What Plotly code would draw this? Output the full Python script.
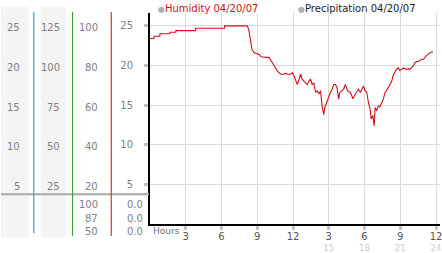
import plotly.graph_objects as go

# ---------------- data ----------------
hours = [0.00, 0.33, 0.33, 0.83, 0.83, 1.67, 1.67, 2.17, 2.17, 3.83, 3.83, 6.25, 6.25, 8.17,
         8.29, 8.42, 8.56, 8.75, 9.17, 9.31, 10.00, 10.17, 10.28, 10.50, 10.69, 10.97, 11.17,
         11.39, 11.58, 11.81, 11.94, 12.08, 12.36, 12.50, 12.64, 12.78, 12.92, 13.06, 13.19,
         13.33, 13.47, 13.61, 13.75, 13.89, 14.03, 14.17, 14.31, 14.44, 14.58, 14.67, 14.86,
         15.00, 15.14, 15.29, 15.42, 15.56, 15.69, 15.83, 15.92, 16.08, 16.25, 16.39, 16.58,
         16.81, 17.03, 17.22, 17.33, 17.50, 17.64, 17.75, 17.92, 18.06, 18.19, 18.33, 18.47,
         18.56, 18.69, 18.81, 18.89, 19.03, 19.17, 19.29, 19.44, 19.58, 19.72, 19.83, 20.00,
         20.13, 20.28, 20.42, 20.56, 20.67, 20.83, 20.96, 21.11, 21.25, 21.39, 21.50, 21.67,
         21.81, 21.92, 22.08, 22.21, 22.36, 22.50, 22.78, 22.92, 23.04, 23.19, 23.33, 23.47,
         23.58, 23.75]
humidity = [23.4, 23.4, 23.7, 23.7, 24.0, 24.0, 24.2, 24.2, 24.4, 24.4, 24.7, 24.7, 25.0, 25.0,
            24.5, 23.0, 22.0, 21.6, 21.4, 21.1, 21.0, 20.6, 20.3, 19.8, 19.3, 18.9, 18.9,
            19.0, 18.9, 18.9, 19.1, 18.7, 17.6, 18.2, 18.9, 18.25, 18.0, 17.8, 17.6,
            18.0, 18.3, 17.6, 17.8, 16.6, 16.8, 16.4, 16.8, 14.9, 13.8, 14.7, 15.5,
            16.0, 16.6, 17.0, 17.6, 17.6, 17.2, 15.75, 16.6, 16.8, 17.0, 17.6, 16.8,
            16.6, 15.8, 16.4, 16.6, 17.0, 16.6, 17.0, 17.4, 16.8, 16.6, 15.3, 14.5,
            13.25, 13.7, 12.4, 14.7, 14.3, 14.9, 14.8, 15.3, 15.75, 16.6, 16.8, 17.2,
            17.6, 18.0, 18.8, 19.3, 19.5, 19.7, 19.4, 19.5, 19.7, 19.6, 19.5, 19.6,
            19.5, 19.7, 19.9, 20.3, 20.5, 20.5, 20.75, 20.75, 21.0, 21.25, 21.4, 21.6,
            21.7, 21.7]

scale_main = [5, 10, 15, 20, 25]          # column 1 and column 4 labels
scale_col2 = [25, 50, 75, 100, 125]
scale_col3 = [20, 40, 60, 80, 100]
table_col3 = ["100", "87", "50"]
table_col4 = ["0.0", "0.0", "0.0"]
x_ticks = [3, 6, 9, 12, 15, 18, 21, 24]
legend_names = ["Humidity 04/20/07", "Precipitation 04/20/07"]

# ---------------- geometry helpers ----------------
W, H = 442, 253
L, T, B = 150, 13, 27
PW, PH = W - L, H - T - B


def px(x):
    return (x - L) / PW


def py(y):
    return (H - B - y) / PH


FONT = "DejaVu Sans"
GRAY = "#808080"

fig = go.Figure()
fig.add_trace(go.Scatter(x=hours, y=humidity, mode="lines",
                         line=dict(color="#d0101c", width=1.1), showlegend=False,
                         hoverinfo="skip"))

shapes = []
# gray column backgrounds
for x0, x1 in [(0, 28), (40, 66)]:
    shapes.append(dict(type="rect", xref="paper", yref="paper", x0=px(x0), x1=px(x1),
                       y0=py(240), y1=py(7), fillcolor="#f4f4f4", line=dict(width=0),
                       layer="below"))
# separator line
shapes.append(dict(type="line", xref="paper", yref="paper", x0=px(0), x1=px(149),
                   y0=py(196), y1=py(196), line=dict(color="#a8a8a8", width=2)))
# colored axis lines
for x, c, yb in [(33, "#3a9fcf", 235), (72, "#3aa63a", 238), (111, "#c43c3c", 238)]:
    shapes.append(dict(type="line", xref="paper", yref="paper", x0=px(x), x1=px(x),
                       y0=py(yb), y1=py(12), line=dict(color=c, width=1.2)))

LAB = dict(family=FONT, size=10, color=GRAY)
ann = []
for v in scale_main:
    ann.append(dict(x=px(21), y=v, xref="paper", yref="y", text=str(v), showarrow=False,
                    xanchor="right", yanchor="middle", yshift=-2, font=LAB))
for v, lab in zip(scale_main, scale_col2):
    ann.append(dict(x=px(61), y=v, xref="paper", yref="y", text=str(lab), showarrow=False,
                    xanchor="right", yanchor="middle", yshift=-2, font=LAB))
for v, lab in zip(scale_main, scale_col3):
    ann.append(dict(x=px(100), y=v, xref="paper", yref="y", text=str(lab), showarrow=False,
                    xanchor="right", yanchor="middle", yshift=-2, font=LAB))
for i, (a, b) in enumerate(zip(table_col3, table_col4)):
    yy = py(206 + 14 * i)
    ann.append(dict(x=px(100), y=yy, xref="paper", yref="paper", text=a, showarrow=False,
                    xanchor="right", yanchor="middle", font=LAB))
    ann.append(dict(x=px(145), y=yy, xref="paper", yref="paper", text=b, showarrow=False,
                    xanchor="right", yanchor="middle", font=LAB))
# Hours label
ann.append(dict(x=px(151), y=py(233), xref="paper", yref="paper", text="Hours", showarrow=False,
                xanchor="left", yanchor="middle", font=dict(family=FONT, size=9, color="#707070")))
# legend
ann.append(dict(x=px(156), y=py(8), xref="paper", yref="paper",
                text="<span style='color:#b0b0b0;font-size:8px'>●</span>" + legend_names[0],
                showarrow=False, xanchor="left", yanchor="middle",
                font=dict(family=FONT, size=10, color="#cc1020")))
ann.append(dict(x=px(297), y=py(8), xref="paper", yref="paper",
                text="<span style='color:#b0b0b0;font-size:8px'>●</span>" + legend_names[1],
                showarrow=False, xanchor="left", yanchor="middle",
                font=dict(family=FONT, size=10, color="#222222")))

xt_text = []
for t in x_ticks:
    h12 = t if t <= 12 else t - 12
    second = "<span style='color:#cccccc'>%d</span>" % t if t > 12 else " "
    xt_text.append("<span style='font-size:10px'>%d</span><br>%s" % (h12, second))

fig.update_layout(
    width=W, height=H,
    margin=dict(l=L, r=0, t=T, b=B, pad=0),
    paper_bgcolor="white", plot_bgcolor="white",
    shapes=shapes, annotations=ann,
    xaxis=dict(range=[0, PW / 12.0], tickvals=x_ticks, ticktext=xt_text,
               tickfont=dict(family=FONT, size=8.5, color="#555"),
               ticks="outside", ticklen=4, tickwidth=3, tickcolor="#c4c4c4",
               showgrid=True, gridcolor="#dadada", gridwidth=1,
               showline=True, linecolor="black", linewidth=2, zeroline=False,
               fixedrange=True, ticklabelstandoff=0, ticklabeloverflow="allow"),
    yaxis=dict(range=[0, PH / 8.0], tickvals=scale_main, ticktext=[str(v) for v in scale_main],
               tickfont=dict(family=FONT, size=10, color=GRAY),
               ticks="outside", ticklen=4, tickwidth=3, tickcolor="#c4c4c4",
               showgrid=True, gridcolor="#dadada", gridwidth=1,
               showline=True, linecolor="black", linewidth=2, zeroline=False,
               fixedrange=True, ticklabelstandoff=9),
    showlegend=False,
)

fig.write_html("out.html")
